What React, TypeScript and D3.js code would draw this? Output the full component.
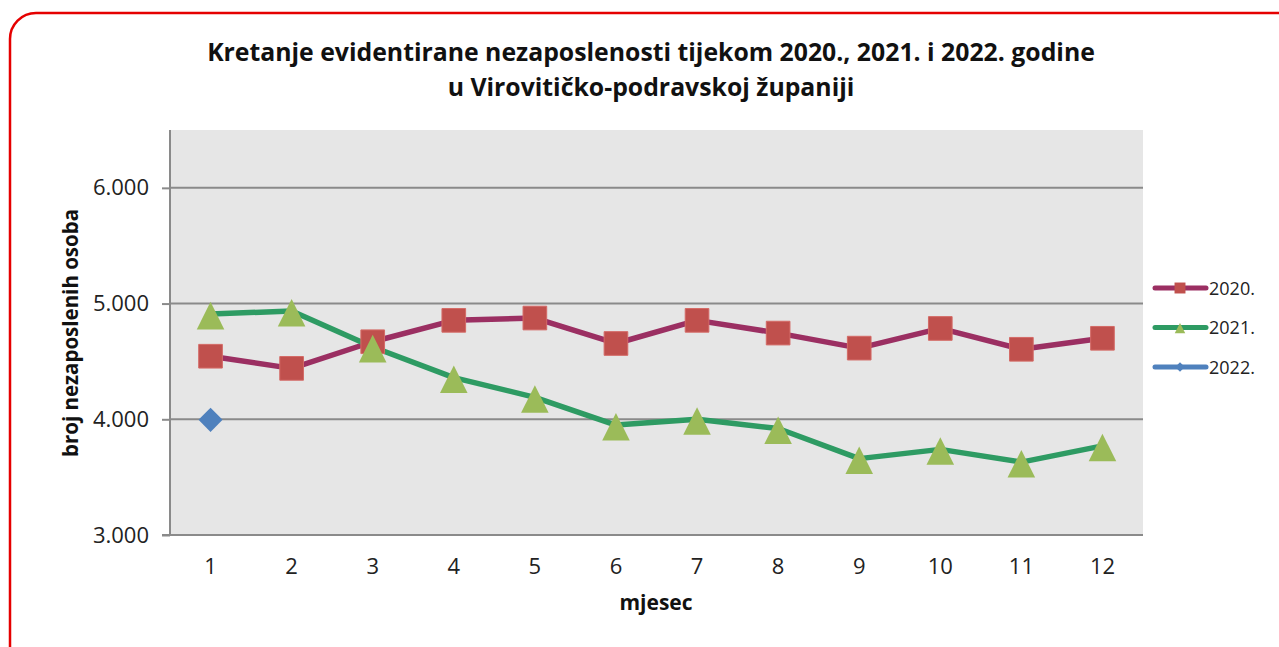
import * as d3 from 'd3'
import { useEffect, useRef } from 'react'

const months = ['1', '2', '3', '4', '5', '6', '7', '8', '9', '10', '11', '12']
const y2020 = [4545, 4440, 4670, 4855, 4875, 4655, 4855, 4745, 4615, 4785, 4605, 4700]
const y2021 = [4910, 4935, 4625, 4360, 4190, 3950, 4000, 3920, 3660, 3740, 3630, 3770]
const y2022 = [3995]
const yTicks = [3000, 4000, 5000, 6000]

const seriesList = [
    { name: '2020.', values: y2020, line: '#9B2F62', fill: '#C0504D', shape: 'square' },
    { name: '2021.', values: y2021, line: '#2E9B63', fill: '#9BBB59', shape: 'triangle' },
    { name: '2022.', values: y2022, line: '#4F81BD', fill: '#4F81BD', shape: 'diamond' },
]

// excel-like triangle: as tall as it is wide, sitting a bit low on the point
const excelTriangle = {
    draw(ctx: any, size: number) {
        const s = Math.sqrt(size)
        ctx.moveTo(0, -s * 0.44)
        ctx.lineTo(s / 2, s * 0.56)
        ctx.lineTo(-s / 2, s * 0.56)
        ctx.closePath()
    }
}

export default function App() {
    const svgRef = useRef(null) as any

    useEffect(() => {
        const W = 1279
        const H = 647
        const left = 170, right = 1143, top = 130, bottom = 535
        const font = "'Open Sans', 'Noto Sans', sans-serif"

        const svg = d3.select(svgRef.current)
        svg.selectAll('*').remove()

        svg.append('rect').attr('width', W).attr('height', H).attr('fill', '#fff')

        // outer rounded red frame
        svg.append('rect')
            .attr('x', 10).attr('y', 13)
            .attr('width', 1300).attr('height', 680)
            .attr('rx', 26).attr('ry', 26)
            .attr('fill', 'none')
            .attr('stroke', '#E50000')
            .attr('stroke-width', 2.5)

        const x = d3.scaleBand().domain(months).range([left, right])
        const y = d3.scaleLinear().domain([3000, 6500]).range([bottom, top])
        const cx = (i: number) => (x(months[i]) as number) + x.bandwidth() / 2

        svg.append('rect')
            .attr('x', left).attr('y', top)
            .attr('width', right - left).attr('height', bottom - top)
            .attr('fill', '#E6E6E6')

        // gridlines
        svg.append('g').selectAll('line')
            .data(yTicks.slice(1))
            .enter().append('line')
            .attr('x1', left).attr('x2', right)
            .attr('y1', d => y(d)).attr('y2', d => y(d))
            .attr('stroke', '#8A8A8A').attr('stroke-width', 2)

        // y axis
        const yAxis = d3.axisLeft(y).tickValues(yTicks).tickSize(8).tickPadding(13)
            .tickFormat(d => d3.format(',')(d as number).replace(',', '.'))
        const gy = svg.append('g').attr('transform', `translate(${left},0)`).call(yAxis)
        gy.select('.domain').remove()
        gy.selectAll('line').attr('stroke', '#8A8A8A').attr('stroke-width', 2)
        gy.selectAll('text').attr('font-family', font).attr('font-size', 22).attr('fill', '#222')
        svg.append('line')
            .attr('x1', left).attr('x2', left).attr('y1', top).attr('y2', bottom)
            .attr('stroke', '#8A8A8A').attr('stroke-width', 2)

        // x axis
        const xAxis = d3.axisBottom(x).tickSize(0).tickPadding(23)
        const gx = svg.append('g').attr('transform', `translate(0,${bottom})`).call(xAxis)
        gx.select('.domain').remove()
        gx.selectAll('text').attr('font-family', font).attr('font-size', 22).attr('fill', '#222')
        svg.append('line')
            .attr('x1', left - 8).attr('x2', right).attr('y1', bottom).attr('y2', bottom)
            .attr('stroke', '#8A8A8A').attr('stroke-width', 2)

        const symbolFor = (shape: string) => {
            if (shape === 'square') return d3.symbol(d3.symbolSquare, 560)
            if (shape === 'triangle') return d3.symbol(excelTriangle as any, 760)
            return d3.symbol(d3.symbolSquare, 290)
        }

        const line = d3.line<number>()
            .x((_, i) => cx(i))
            .y(d => y(d))

        seriesList.forEach(s => {
            if (s.values.length > 1) {
                svg.append('path')
                    .attr('d', line(s.values))
                    .attr('fill', 'none')
                    .attr('stroke', s.line)
                    .attr('stroke-width', 5.5)
                    .attr('stroke-linejoin', 'round')
            }
        })
        seriesList.forEach(s => {
            svg.append('g').selectAll('path')
                .data(s.values)
                .enter().append('path')
                .attr('d', symbolFor(s.shape))
                .attr('transform', (d, i) => `translate(${cx(i)},${y(d)})` +
                    (s.shape === 'diamond' ? ' rotate(45)' : ''))
                .attr('fill', s.fill)
                .attr('stroke', s.shape === 'square' ? '#D46A66' : 'none')
                .attr('stroke-width', 1)
        })

        // legend
        const lg = svg.append('g')
        seriesList.forEach((s, i) => {
            const ly = 288 + i * 39.5
            lg.append('line')
                .attr('x1', 1155).attr('x2', 1206).attr('y1', ly).attr('y2', ly)
                .attr('stroke', s.line).attr('stroke-width', 5).attr('stroke-linecap', 'round')
            const sym = s.shape === 'square' ? d3.symbol(d3.symbolSquare, 120)
                : s.shape === 'triangle' ? d3.symbol(excelTriangle as any, 110)
                : d3.symbol(d3.symbolSquare, 45)
            lg.append('path')
                .attr('d', sym)
                .attr('transform', `translate(1180,${ly})` + (s.shape === 'diamond' ? ' rotate(45)' : ''))
                .attr('fill', s.fill)
            lg.append('text')
                .attr('x', 1209).attr('y', ly + 6.5)
                .attr('font-family', font).attr('font-size', 18).attr('fill', '#222')
                .text(s.name)
        })

        // title
        const title = svg.append('text')
            .attr('text-anchor', 'middle')
            .attr('font-family', font).attr('font-size', 24.8).attr('font-weight', 'bold')
            .attr('fill', '#111')
        title.append('tspan').attr('x', 651).attr('y', 61)
            .text('Kretanje evidentirane nezaposlenosti tijekom 2020., 2021. i 2022. godine')
        title.append('tspan').attr('x', 651).attr('y', 96)
            .text('u Virovitičko-podravskoj  županiji')

        svg.append('text')
            .attr('transform', `translate(78,333) rotate(-90)`)
            .attr('text-anchor', 'middle')
            .attr('font-family', font).attr('font-size', 20.5).attr('font-weight', 'bold')
            .attr('fill', '#111')
            .text('broj nezaposlenih osoba')

        svg.append('text')
            .attr('x', 656).attr('y', 610)
            .attr('text-anchor', 'middle')
            .attr('font-family', font).attr('font-size', 21).attr('font-weight', 'bold')
            .attr('fill', '#111')
            .text('mjesec')
    }, [])

    return (
        <svg ref={svgRef} width={1279} height={647}
            style={{ position: 'absolute', left: 0, top: 0, display: 'block' }} />
    )
}
